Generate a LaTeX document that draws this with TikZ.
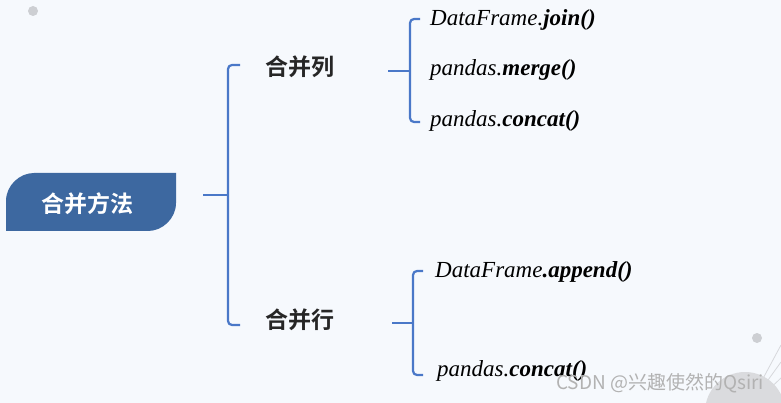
\documentclass[tikz,border=0pt]{standalone}
\usepackage{fontspec}
\setmainfont{Liberation Serif}
\newfontfamily\cjk[BoldFont={Noto Sans CJK SC Bold}]{Noto Sans CJK SC}
\usetikzlibrary{calc}
\definecolor{bgpaper}{HTML}{F6F9FD}
\definecolor{rootblue}{HTML}{3D68A0}
\definecolor{linkblue}{HTML}{4A78C8}
\definecolor{dotgrey}{HTML}{CDCFD3}
\tikzset{
    link/.style={draw=linkblue, line width=2.2pt, rounded corners=4pt},
    cat/.style={font=\cjk\bfseries\fontsize{23}{26}\selectfont, text=black!85, inner sep=0pt, anchor=west},
    item/.style={font=\itshape\fontsize{23}{26}\selectfont, inner sep=0pt, anchor=west},
}
\begin{document}
\begin{tikzpicture}[x=1pt,y=-1pt]
        \fill[bgpaper] (0,0) rectangle (781,403);
        \useasboundingbox (0,0) rectangle (781,403);

        % faint decoration
        \begin{scope}[dotgrey]
            \fill (33,11) circle (5);
            \fill (757,338) circle (5);
            \foreach \ty in {345,362,378,394} {
                \draw[dotgrey!80, line width=0.8pt] (745,412) -- (781,\ty);
            }
            \fill[dotgrey!75] (745,412) circle (40);
        \end{scope}

        % root
        \fill[rootblue] (6,231) -- (6,201) .. controls (6,185.5) and (19.5,173) .. (34,173)
            -- (176,173) -- (176,203) .. controls (176,218.5) and (162.5,231) .. (148,231) -- cycle;
        \node[font=\cjk\bfseries\fontsize{23}{26}\selectfont, text=white, minimum width=170pt, minimum height=58pt] (root) at (87,204) {合并方法};

        % categories
        \foreach \n / \y / \t in {col/67/合并列, row/320/合并行} {
            \node[cat] (\n) at (265,\y) {\t};
        }

        % items
        \node[item] (join) at (430,20) {DataFrame.\textbf{join()}};
        \node[item] (merge) at (430,70) {pandas.\textbf{merge()}};
        \node[item] (concatc) at (430,121) {pandas.\textbf{concat()}};
        \node[item] (append) at (435,272) {DataFrame\textbf{.append()}};
        \node[item] (concatr) at (437,371) {pandas.\textbf{concat()}};

        % brackets
        \coordinate (s0) at (203,195);
        \coordinate (m0) at (228,195);
        \coordinate (s1) at (388,71);
        \coordinate (m1) at (410,71);
        \coordinate (s2) at (392,323);
        \coordinate (m2) at (413,323);

        \draw[link] (s0) -- (m0);
        \draw[link] ([xshift=-25pt,yshift=2pt]col.west) -| (m0) |- ([xshift=-25pt,yshift=-5pt]row.west);

        \draw[link] (s1) -- (m1);
        \draw[link] ([xshift=-10pt,yshift=1pt]join.west) -| (m1) |- ([xshift=-10pt,yshift=-1pt]concatc.west);

        \draw[link] (s2) -- (m2);
        \draw[link] ([xshift=-12pt,yshift=1pt]append.west) -| (m2) |- ([xshift=-14pt,yshift=-4pt]concatr.west);

        % watermark
        \node[font=\cjk\fontsize{19}{21}\selectfont, text=black!30, inner sep=0pt, anchor=west] (mark) at (556,383) {CSDN @兴趣使然的Qsiri};
\end{tikzpicture}
\end{document}
